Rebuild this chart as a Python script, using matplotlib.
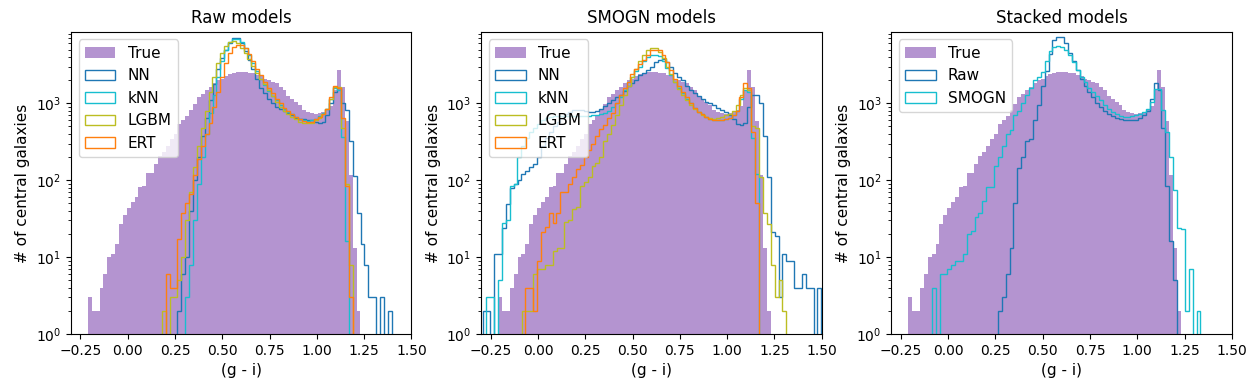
import numpy as np
import matplotlib
matplotlib.use("Agg")
import matplotlib.pyplot as plt

# common bin width of all the histograms (70 bins over the range of the true colours)
bin_w = 0.02059

# true (g - i) colours of the central galaxies, counts per bin
true_lo = -0.211
true_counts = [3, 2, 2, 4, 6, 10, 11, 15, 27, 35, 44, 52, 60, 81, 83, 125, 125, 163, 204, 232,
               282, 347, 400, 540, 600, 675, 810, 975, 1200, 1340, 1470, 1630, 1810, 1990, 2100,
               2250, 2400, 2500, 2570, 2570, 2550, 2500, 2450, 2300, 2250, 2100, 2000, 1900, 1850,
               1630, 1470, 1230, 1150, 1040, 940, 830, 775, 750, 735, 750, 775, 810, 920, 1500,
               2750, 1630, 590, 118, 13, 2]

# raw models
nn_raw_lo = 0.263
nn_raw = [2, 6, 10, 40, 100, 200, 380, 650, 1100, 1800, 2800, 3900, 5000, 6000, 7000, 7000,
          6000, 4800, 3700, 2800, 2100, 1600, 1350, 1150, 1000, 900, 850, 800, 750, 700, 650,
          620, 620, 600, 600, 580, 560, 580, 700, 1000, 1400, 1600, 1000, 810, 320, 115, 38,
          15, 8, 3, 3, 0, 3, 0, 2]
knn_raw_lo = 0.304
knn_raw = [3, 8, 30, 90, 200, 400, 750, 1300, 2200, 3500, 5000, 6200, 6800, 6800, 6300, 5300,
           4200, 3300, 2600, 2100, 1750, 1450, 1250, 1100, 950, 850, 780, 720, 670, 630, 600,
           590, 600, 630, 680, 750, 850, 1150, 1600, 1500, 370, 16]
lgbm_raw_lo = 0.180
lgbm_raw = [2, 0, 3, 3, 5, 10, 30, 70, 150, 280, 480, 800, 1400, 2200, 3300, 4500, 5600, 6300,
            6500, 6000, 5300, 4500, 3800, 3100, 2500, 2100, 1800, 1500, 1250, 1050, 900, 800,
            720, 660, 620, 580, 560, 550, 560, 600, 650, 720, 850, 1150, 1650, 1650, 480, 90, 8]
ert_raw_lo = 0.201
ert_raw = [6, 4, 4, 17, 37, 50, 66, 118, 190, 275, 400, 550, 900, 1400, 2200, 3300, 4500, 5400,
           5800, 5800, 5300, 4400, 3500, 2800, 2300, 1900, 1600, 1350, 1150, 1000, 880, 800, 720,
           660, 620, 590, 570, 580, 620, 660, 720, 850, 1200, 1700, 1600, 650, 85, 3]

# SMOGN models
nn_smogn_lo = -0.293
nn_smogn = [2, 2, 0, 11, 11, 24, 49, 80, 88, 100, 120, 133, 148, 163, 200, 280, 350, 420, 500,
            580, 650, 720, 780, 820, 830, 830, 800, 770, 770, 800, 850, 910, 1000, 1100, 1200,
            1300, 1450, 1700, 1850, 2000, 2300, 2500, 2750, 3000, 3400, 3700, 3800, 3400, 3000,
            2500, 2200, 2000, 1700, 1500, 1350, 1250, 1150, 1050, 1000, 950, 880, 820, 780, 700,
            620, 540, 520, 560, 900, 1300, 1300, 1000, 380, 110, 21, 19, 3, 11, 9, 9, 4, 4, 6,
            4, 4, 0, 4]
knn_smogn_lo = -0.273
knn_smogn = [3, 3, 0, 5, 28, 30, 83, 90, 200, 280, 350, 420, 480, 540, 600, 640, 660, 680, 690,
             690, 680, 680, 690, 690, 690, 680, 690, 700, 700, 720, 750, 800, 900, 1000, 1200,
             1500, 1900, 2200, 2600, 3000, 3500, 4000, 4300, 4300, 4100, 3600, 2900, 2300, 1900,
             1600, 1350, 1150, 1000, 880, 780, 720, 660, 620, 600, 600, 600, 620, 650, 700, 800,
             1150, 1500, 1400, 350, 120]
lgbm_smogn_lo = -0.087
lgbm_smogn = [2, 2, 2, 6, 7, 7, 8, 8, 12, 13, 13, 29, 30, 42, 45, 85, 95, 110, 155, 165, 200,
              320, 400, 520, 700, 950, 1300, 1700, 2200, 2800, 3500, 4200, 5000, 5300, 5200,
              4700, 3900, 3000, 2400, 1900, 1550, 1300, 1100, 950, 850, 770, 700, 660, 640, 630,
              640, 660, 700, 730, 800, 950, 1300, 1600, 1500, 500, 480, 110, 38, 27, 8, 3, 5, 2]
ert_smogn_lo = -0.067
ert_smogn = [4, 4, 2, 9, 21, 25, 37, 28, 38, 70, 70, 90, 110, 140, 160, 200, 250, 300, 380, 460,
             520, 650, 750, 1000, 1300, 1600, 1900, 2400, 2800, 3200, 3700, 4300, 4900, 5000,
             4900, 4200, 3400, 2700, 2100, 1700, 1400, 1200, 1000, 880, 780, 720, 660, 620, 600,
             600, 600, 620, 650, 700, 800, 1200, 1850, 1600, 420, 50]

# stacked models
stack_raw_lo = 0.263
stack_raw = [2, 3, 6, 13, 50, 145, 200, 320, 340, 600, 950, 1700, 2600, 4400, 6600, 7300, 7300,
             6000, 4500, 3500, 2700, 2100, 1700, 1400, 1200, 1000, 900, 800, 720, 680, 640, 620,
             610, 610, 600, 600, 640, 700, 800, 1150, 1830, 1500, 480, 83, 16, 5]
stack_smogn_lo = -0.087
stack_smogn = [4, 0, 6, 6, 7, 8, 9, 9, 11, 20, 22, 33, 37, 54, 81, 81, 155, 200, 280, 400, 450,
               700, 800, 1000, 1300, 1600, 2000, 2200, 2550, 3600, 4800, 5400, 5500, 5400, 5000,
               4200, 3400, 2700, 2200, 1900, 1600, 1400, 1250, 1100, 950, 850, 780, 720, 680,
               660, 660, 680, 700, 720, 780, 850, 1050, 1530, 1530, 820, 420, 200, 75, 24, 23, 2,
               7, 0, 2]

panels = [
    ("Raw models", [("NN", nn_raw_lo, nn_raw, "tab:blue"),
                    ("kNN", knn_raw_lo, knn_raw, "tab:cyan"),
                    ("LGBM", lgbm_raw_lo, lgbm_raw, "tab:olive"),
                    ("ERT", ert_raw_lo, ert_raw, "tab:orange")]),
    ("SMOGN models", [("NN", nn_smogn_lo, nn_smogn, "tab:blue"),
                      ("kNN", knn_smogn_lo, knn_smogn, "tab:cyan"),
                      ("LGBM", lgbm_smogn_lo, lgbm_smogn, "tab:olive"),
                      ("ERT", ert_smogn_lo, ert_smogn, "tab:orange")]),
    ("Stacked models", [("Raw", stack_raw_lo, stack_raw, "tab:blue"),
                        ("SMOGN", stack_smogn_lo, stack_smogn, "tab:cyan")]),
]


def draw_hist(ax, lo, counts, **kw):
    """histogram from counts per bin, bins start at lo"""
    edges = lo + bin_w * np.arange(len(counts) + 1)
    ax.hist(edges[:-1] + bin_w / 2, bins=edges, weights=counts, **kw)


fig, axes = plt.subplots(1, 3, figsize=(12.57, 3.88), dpi=100)
fig.subplots_adjust(left=0.0565, right=0.980, bottom=0.139, top=0.918, wspace=0.205)

for ax, (title, models) in zip(axes, panels):
    draw_hist(ax, true_lo, true_counts, color="tab:purple", alpha=0.7, label="True", log=True)
    for name, lo, counts, col in models:
        draw_hist(ax, lo, counts, histtype="step", color=col, label=name, log=True)
    ax.set_yscale("log")
    ax.set_ylim(1, 8500)
    ax.set_xlim(-0.3, 1.5)
    ax.set_title(title, fontsize=12)
    ax.set_xlabel("(g - i)", fontsize=11)
    ax.set_ylabel("# of central galaxies", fontsize=11)
    ax.legend(loc="upper left", fontsize=11)

plt.savefig("out.png", dpi=100)
